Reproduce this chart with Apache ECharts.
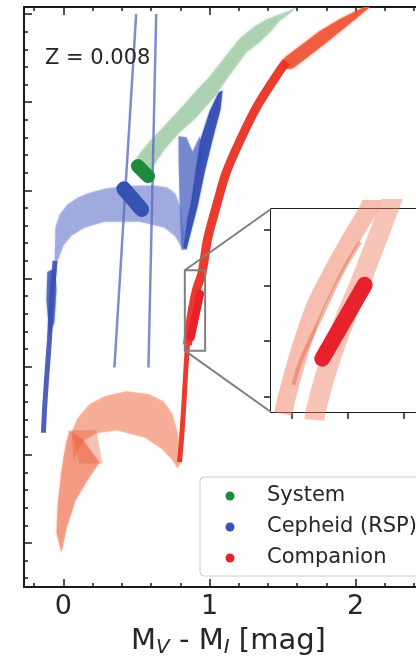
<!DOCTYPE html>
<html><head><meta charset="utf-8">
<script src="https://cdn.jsdelivr.net/npm/echarts@6/dist/echarts.min.js"></script>
<style>html,body{margin:0;padding:0;background:#fff}#c{width:416px;height:658px}</style>
</head><body><div id="c"></div>
<script>
// ---------- axis ranges & ticks ----------
const xRange = [-0.27, 2.53];
const yRange = [-0.5, 6.08];
const xMajorTicks = [0, 1, 2];
const xMinorTicks = [-0.2, 0.2, 0.4, 0.6, 0.8, 1.2, 1.4, 1.6, 1.8, 2.2, 2.4];
const yMajorTicks = [0, 1, 2, 3, 4, 5, 6];
const yMinorTicks = [-0.4, -0.2, 0.2, 0.4, 0.6, 0.8, 1.2, 1.4, 1.6, 1.8, 2.2, 2.4, 2.6, 2.8,
  3.2, 3.4, 3.6, 3.8, 4.2, 4.4, 4.6, 4.8, 5.2, 5.4, 5.6, 5.8];
const insetXRange = [0.831, 0.97];
const insetYRange = [2.181, 3.094];
const insetXTicks = [0.85, 0.9, 0.95];
const insetYTicks = [2.25, 2.5, 2.75, 3.0];

// ---------- System (green) ----------
const systemTrack = [[0.500,4.372],[0.589,4.553],[0.692,4.735],[0.795,4.917],[0.897,5.110],[1.0,5.292],
  [1.103,5.508],[1.205,5.724],[1.308,5.860],[1.390,5.940],[1.514,6.019],[1.596,6.076],[1.568,6.031],
  [1.479,5.917],[1.432,5.826],[1.342,5.678],[1.253,5.565],[1.137,5.303],[1.021,5.031],[0.897,4.803],
  [0.795,4.656],[0.692,4.463],[0.623,4.292],[0.575,4.144]];
const systemObs = [[0.510,4.275],[0.579,4.161]];

// ---------- Cepheid (blue) ----------
const cepheidLoop = [[-0.055,3.576],[-0.027,3.724],[0.027,3.838],[0.096,3.917],[0.178,3.974],[0.281,4.019],
  [0.384,4.043],[0.521,4.054],[0.623,4.054],[0.712,4.031],[0.767,3.963],[0.801,3.804],[0.822,3.554],
  [0.822,3.326],[0.801,3.372],[0.767,3.474],[0.692,3.576],[0.521,3.645],[0.281,3.645],[0.144,3.576],
  [0.055,3.485],[0,3.372],[-0.041,3.19],[-0.062,3.10]];
const cepheidLeg = [[-0.058,3.20],[-0.062,3.10],[-0.082,2.76],[-0.096,2.30],[-0.116,1.85],[-0.130,1.50],[-0.137,1.25]];
const cepheidLegLump = [[-0.110,3.074],[-0.055,3.119],[-0.048,2.867],[-0.062,2.503],[-0.096,2.354],[-0.116,2.753]];
const cepheidArmLeft = [[0.788,4.614],[0.842,4.603],[0.884,4.440],[0.932,4.610],[0.952,4.463],[0.897,4.008],
  [0.849,3.553],[0.829,3.326],[0.808,3.326],[0.795,3.894],[0.788,4.349]];
const cepheidArmRight = [[1.062,5.110],[1.089,5.133],[1.075,4.917],[1.021,4.576],[0.966,4.201],[0.918,3.815],
  [0.877,3.553],[0.842,3.326],[0.822,3.349],[0.849,3.667],[0.877,3.894],[0.904,4.201],[0.938,4.576],[1.0,4.894]];
const cepheidObs = [[0.414,4.017],[0.535,3.783]];
const stripBlue = [[0.498,6.0],[0.349,1.99]];
const stripRed = [[0.635,6.0],[0.582,1.99]];

// ---------- Companion (red) ----------
const companionTrack = [[0.795,0.917],[0.808,1.167],[0.822,1.508],[0.836,1.906],[0.849,2.247],[0.877,2.588],
  [0.911,2.872],[0.949,3.065],[0.986,3.440],[1.046,3.815],[1.114,4.201],[1.212,4.576],[1.325,4.951],
  [1.473,5.337],[1.527,5.462]];
const companionTip = [[1.514,5.508],[1.616,5.633],[1.753,5.804],[1.890,5.940],[2.0,6.031],[2.082,6.099],
  [2.096,6.076],[2.014,5.963],[1.801,5.678],[1.651,5.485],[1.568,5.383],[1.493,5.372]];
const companionHump = [[0.055,1.254],[0.096,1.414],[0.178,1.574],[0.281,1.665],[0.432,1.722],[0.589,1.688],
  [0.685,1.608],[0.747,1.459],[0.788,1.220],[0.801,0.901],[0.781,0.844],[0.747,0.935],[0.678,1.060],
  [0.555,1.197],[0.363,1.277],[0.226,1.243],[0.144,1.163],[0.096,1.049],[0.068,0.935]];
const companionLeg = [[0.041,1.277],[0.137,1.163],[0.247,0.912],[0.164,0.707],[0.082,0.479],[0.021,0.160],
  [-0.014,-0.114],[-0.048,0.114],[-0.041,0.422],[-0.014,0.821],[0.014,1.106]];
const companionKnot = [[0.055,1.277],[0.226,1.277],[0.267,0.901],[0.110,0.901]];
const companionObs = [[0.873,2.338],[0.935,2.826]];

// ---------- inset detail ----------
const insetTrackA = [[0.842,2.172],[0.845,2.244],[0.857,2.460],[0.870,2.649],[0.886,2.811],[0.902,2.955],[0.918,3.090],[0.923,3.157]];
const insetTrackAcore = [[0.851,2.302],[0.858,2.415],[0.875,2.599],[0.895,2.811],[0.911,2.946]];
const insetTrackB = [[0.870,2.145],[0.871,2.185],[0.882,2.383],[0.897,2.595],[0.912,2.775],[0.924,2.932],[0.936,3.090],[0.941,3.157]];
const insetObs = [[0.877,2.421],[0.915,2.753]];

// ---------- helpers ----------
const FONT = 'DejaVu Sans';
const INK = '#262626';
const AX = '#1a1a1a';
const GREEN = '#1d8a3e', BLUE = '#3652b2', RED = '#e8222b';

function poly(name, pts, fill, z, xi, yi, blur, stroke) {
  return {
    type: 'custom', name, coordinateSystem: 'cartesian2d', xAxisIndex: xi, yAxisIndex: yi,
    z, clip: true, silent: true, data: [pts[0]],
    renderItem: (params, api) => ({
      type: 'polygon',
      shape: { points: pts.map(p => api.coord(p)) },
      style: stroke ? { fill: 'none', stroke, lineWidth: 2 }
                    : { fill, shadowBlur: blur || 0, shadowColor: fill }
    })
  };
}
function line(name, pts, color, width, z, xi, yi, cap, smooth) {
  return {
    type: 'line', name, data: pts, xAxisIndex: xi, yAxisIndex: yi, z, symbol: 'none',
    silent: true, clip: true, smooth: smooth || false,
    lineStyle: { color, width, cap: cap || 'butt', join: 'round' },
    itemStyle: { color }
  };
}
function ax(grid, pos, range, ticks, len, inside, showLine, labels) {
  return {
    type: 'value', gridIndex: grid, position: pos, min: range[0], max: range[1],
    axisLine: { show: showLine, onZero: false, lineStyle: { color: AX, width: 2 } },
    axisTick: { show: !!ticks, inside, length: len, customValues: ticks || [], lineStyle: { color: AX, width: 1.5 } },
    axisLabel: labels ? { show: true, customValues: ticks, margin: 6, fontSize: 27, fontFamily: FONT, color: INK,
      formatter: v => String(Math.round(v)) } : { show: false },
    splitLine: { show: false }
  };
}

const zoomBox = [[insetXRange[0], insetYRange[0]], [insetXRange[1], insetYRange[0]],
  [insetXRange[1], insetYRange[1]], [insetXRange[0], insetYRange[1]]];

const option = {
  animation: false,
  backgroundColor: '#ffffff',
  grid: [
    { left: 24, top: 7, width: 409, height: 580, outerBoundsMode: 'none', containLabel: false },
    { left: 271, top: 209, width: 155, height: 203, show: true, backgroundColor: '#ffffff', borderWidth: 0, z: 3,
      outerBoundsMode: 'none', containLabel: false }
  ],
  xAxis: [
    Object.assign(ax(0, 'bottom', xRange, xMajorTicks, 8, true, true, true), {
      name: '{m|M}{s|V}{m| - M}{s|I}{m| [mag]}', nameLocation: 'middle', nameGap: 37,
      nameTextStyle: { fontFamily: FONT, color: INK, fontSize: 29,
        rich: { m: { fontFamily: FONT, fontSize: 29, lineHeight: 34, color: INK },
                s: { fontFamily: FONT, fontSize: 20, fontStyle: 'italic', lineHeight: 22, verticalAlign: 'bottom', color: INK } } }
    }),
    ax(0, 'bottom', xRange, xMinorTicks, 4, true, false, false),
    ax(0, 'top', xRange, xMajorTicks, 8, true, true, false),
    ax(0, 'top', xRange, xMinorTicks, 4, true, false, false),
    ax(1, 'bottom', insetXRange, insetXTicks, 7, false, true, false),
    ax(1, 'top', insetXRange, null, 0, false, true, false)
  ],
  yAxis: [
    ax(0, 'left', yRange, yMajorTicks, 8, true, true, false),
    ax(0, 'left', yRange, yMinorTicks, 4, true, false, false),
    ax(0, 'right', yRange, yMajorTicks, 8, true, true, false),
    ax(1, 'left', insetYRange, insetYTicks, 7, false, true, false),
    ax(1, 'right', insetYRange, null, 0, false, true, false)
  ],
  legend: {
    data: [{ name: 'System' }, { name: 'Cepheid (RSP)' }, { name: 'Companion' }],
    icon: 'circle', orient: 'vertical', left: 200, top: 477,
    itemWidth: 9, itemHeight: 9, itemGap: 9,
    padding: [8, 12, 7, 25.5],
    borderColor: '#cccccc', borderWidth: 1, borderRadius: 4, backgroundColor: 'rgba(255,255,255,0.85)',
    itemStyle: { borderWidth: 0 },
    formatter: n => '{g|}' + n,
    textStyle: { fontFamily: FONT, fontSize: 21, color: INK, lineHeight: 22,
      rich: { g: { width: 27.5, height: 22 } } },
    selectedMode: false
  },
  series: [
    poly('systemTrack', systemTrack, 'rgba(115,178,125,0.48)', 1, 0, 0, 5),
    poly('cepheidLoop', cepheidLoop, 'rgba(95,115,200,0.48)', 1, 0, 0, 3),
    poly('cepheidArmLeft', cepheidArmLeft, 'rgba(70,95,190,0.6)', 1, 0, 0, 2),
    poly('cepheidArmRight', cepheidArmRight, 'rgba(50,75,180,0.85)', 1, 0, 0, 2),
    poly('cepheidLegLump', cepheidLegLump, 'rgba(60,85,185,0.75)', 1, 0, 0, 2),
    line('cepheidLeg', cepheidLeg, 'rgba(55,80,180,0.9)', 5, 2, 0, 0),
    poly('companionHump', companionHump, 'rgba(240,118,82,0.48)', 1, 0, 0, 3),
    poly('companionLeg', companionLeg, 'rgba(238,108,72,0.55)', 1, 0, 0, 3),
    poly('companionKnot', companionKnot, 'rgba(228,90,55,0.3)', 1, 0, 0, 2),
    line('stripBlue', stripBlue, 'rgba(95,110,195,0.8)', 2.5, 2, 0, 0),
    line('stripRed', stripRed, 'rgba(95,110,195,0.8)', 2.5, 2, 0, 0),
    line('companionLow', companionTrack.slice(0, 5), 'rgba(232,50,35,0.95)', 5, 3, 0, 0),
    line('companionMid', companionTrack.slice(4), 'rgba(232,50,35,0.95)', 9, 3, 0, 0, 'butt', 0.3),
    poly('companionTip', companionTip, 'rgba(238,85,55,0.85)', 3, 0, 0, 3),
    line('System', systemObs, GREEN, 14, 4, 0, 0, 'round'),
    line('Cepheid (RSP)', cepheidObs, BLUE, 15, 4, 0, 0, 'round'),
    line('Companion', companionObs, RED, 8, 4, 0, 0, 'round'),
    poly('zoomBox', zoomBox, 'none', 5, 0, 0, 0, '#808080'),
    line('insetA', insetTrackA, 'rgba(240,125,95,0.5)', 18, 6, 4, 3, 'butt', 0.3),
    line('insetAcore', insetTrackAcore, 'rgba(225,95,65,0.45)', 4, 6, 4, 3, 'butt', 0.3),
    line('insetB', insetTrackB, 'rgba(240,125,95,0.45)', 20, 6, 4, 3, 'butt', 0.3),
    line('insetObs', insetObs, RED, 16, 7, 4, 3, 'round')
  ]
};

const chart = echarts.init(document.getElementById('c'));
chart.setOption(option);

// connector lines from the zoom box to the inset, positioned with the library's converters
const mTop = chart.convertToPixel({ xAxisIndex: 0, yAxisIndex: 0 }, [insetXRange[0], insetYRange[1]]);
const mBot = chart.convertToPixel({ xAxisIndex: 0, yAxisIndex: 0 }, [insetXRange[0], insetYRange[0]]);
const iTop = chart.convertToPixel({ xAxisIndex: 4, yAxisIndex: 3 }, [insetXRange[0], insetYRange[1]]);
const iBot = chart.convertToPixel({ xAxisIndex: 4, yAxisIndex: 3 }, [insetXRange[0], insetYRange[0]]);
chart.setOption({
  graphic: [
    { id: 'ztext', type: 'text', x: 45, y: 58.5, z: 50,
      style: { text: 'Z = 0.008', fontFamily: FONT, fontSize: 21, fill: INK, verticalAlign: 'middle' } },
    { id: 'c1', type: 'line', z: 40, shape: { x1: mTop[0], y1: mTop[1], x2: iTop[0], y2: iTop[1] },
      style: { stroke: '#808080', lineWidth: 2 } },
    { id: 'c2', type: 'line', z: 40, shape: { x1: mBot[0], y1: mBot[1], x2: iBot[0], y2: iBot[1] },
      style: { stroke: '#808080', lineWidth: 2 } }
  ]
});
</script>
</body></html>
